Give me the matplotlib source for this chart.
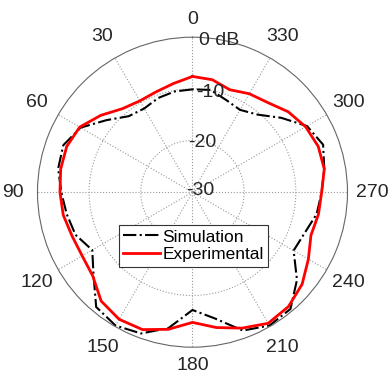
import numpy as np
import matplotlib.pyplot as plt

plt.rcParams['font.family'] = ['Liberation Sans', 'DejaVu Sans']

# angles in degrees (0 at top, counter-clockwise), gain in dB
angles = [0, 10, 20, 30, 40, 50, 60, 70, 80, 90, 100, 110, 120, 130, 140, 150, 160, 170,
          180, 190, 200, 210, 220, 230, 240, 250, 260, 270, 280, 290, 300, 310, 320, 330, 340, 350]
simulation = [-10.1, -10.2, -10.6, -11.3, -10.8, -8.3, -5.0, -3.4, -3.6, -4.6, -5.3, -5.9,
              -7.6, -5.0, -1.0, -0.2, -0.9, -3.3, -7.2, -5.2, -1.5, -0.2, -0.5, -3.6,
              -7.4, -6.9, -5.6, -5.0, -4.1, -3.1, -4.4, -7.6, -10.4, -11.6, -11.0, -9.9]
experimental = [-7.6, -8.65, -9.35, -9.6, -8.9, -6.85, -4.8, -4.1, -4.1, -4.35, -4.6, -5.2,
                -5.35, -4.8, -2.5, -1.6, -1.7, -3.05, -4.8, -3.4, -2.0, -0.7, -1.1, -2.3,
                -4.1, -5.6, -5.25, -5.0, -4.1, -4.1, -4.7, -5.8, -7.35, -8.0, -8.9, -7.9]
r_ticks = [-30, -20, -10, 0]
r_labels = ['-30', '-20', '-10', '0 dB']
theta_labels = list(range(0, 360, 30))

fig = plt.figure(figsize=(3.88, 3.79), dpi=100)
ax = fig.add_axes([0.0966, 0.0839, 0.799, 0.818], projection='polar')
ax.set_theta_zero_location('N')
ax.set_theta_direction(1)

th = np.deg2rad(angles + [angles[0]])
ax.plot(th, simulation + [simulation[0]], color='black', ls='-.', lw=1.5,
        label='Simulation')
ax.plot(th, experimental + [experimental[0]], color='red', ls='-', lw=2,
        label='Experimental')

ax.set_ylim(-30, 0)
ax.set_yticks([-20, -10])
ax.set_yticklabels([])
ax.set_xticks(np.deg2rad(theta_labels))
ax.set_xticklabels([])
ax.grid(True, ls=':', color='#999999', lw=0.8)
ax.spines['polar'].set_color('#666666')
ax.spines['polar'].set_linewidth(0.8)

# angle labels outside the circle
for a in theta_labels:
    rr = 3.5 if a in (0, 180) else 4.8
    ax.text(np.deg2rad(a), rr, str(a), ha='center', va='center', fontsize=14,
            color='#262626', clip_on=False)

# radial labels
pos = {'0 dB': (350, -0.1), '-10': (350, -10.5), '-20': (349, -20.3), '-30': (279, -28.5)}
for lab in r_labels:
    t, rr = pos[lab]
    ax.text(np.deg2rad(t), rr, lab, ha='center', va='center', fontsize=14,
            color='#262626')

leg = ax.legend(loc='upper left', bbox_to_anchor=(0.3067, 0.4063),
                bbox_transform=fig.transFigure, fontsize=12.5, fancybox=False,
                framealpha=1, edgecolor='#333333', handlelength=2.1,
                handletextpad=0.15, borderpad=0.25, labelspacing=0.15,
                borderaxespad=0)
leg.get_frame().set_linewidth(0.8)

fig.savefig('out.png', dpi=100)
